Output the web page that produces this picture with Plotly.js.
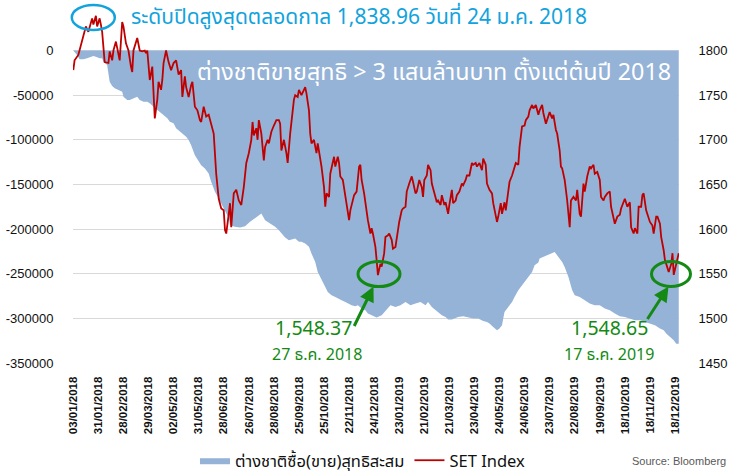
<!DOCTYPE html>
<html>
<head>
<meta charset="utf-8">
<script src="https://cdn.plot.ly/plotly-3.0.1.min.js"></script>
<style>html,body{margin:0;padding:0;background:#fff;}#chart{width:737px;height:474px;}</style>
</head>
<body>
<div id="chart"></div>
<script>
// Trading-day index of tick labels (every 20 trading days) and their labels
const tickIdx = [0,20,40,60,80,100,120,140,160,180,200,220,240,260,280,300,320,340,360,380,400,420,440,460,480];
const tickLabels = ["03/01/2018","31/01/2018","28/02/2018","29/03/2018","02/05/2018","31/05/2018","28/06/2018","26/07/2018","28/08/2018","25/09/2018","25/10/2018","22/11/2018","24/12/2018","23/01/2019","21/02/2019","21/03/2019","23/04/2019","24/05/2019","24/06/2019","23/07/2019","22/08/2019","19/09/2019","18/10/2019","18/11/2019","18/12/2019"];

// SET Index (right axis), sampled by trading-day index
const setIdx = [0,1,4,8,10,12,15,16,18,19,21,22,23,24,25,28,29,31,32,34,36,37,39,40,42,44,46,47,48,51,53,55,57,58,59,61,63,64,65,67,68,70,71,72,74,76,78,80,82,84,86,87,89,90,92,94,95,97,99,101,102,104,106,108,110,112,114,115,116,118,120,121,122,124,125,126,128,130,132,134,136,138,140,142,143,144,146,147,148,150,152,153,155,156,158,160,162,164,165,166,168,170,171,173,174,176,177,179,180,182,184,185,186,188,189,190,192,194,195,197,198,200,201,202,204,205,207,208,209,211,212,213,215,217,218,220,221,223,224,226,228,229,230,232,234,235,237,238,239,241,242,243,245,246,248,249,251,252,254,255,257,258,260,262,263,265,266,268,270,271,273,274,276,278,279,280,282,283,285,286,288,290,291,293,294,296,297,299,300,302,303,305,306,308,310,311,313,314,316,318,319,321,322,324,326,327,329,330,332,334,335,337,338,339,341,342,344,345,347,348,350,352,353,355,356,358,360,361,363,364,366,367,369,371,372,374,375,377,379,380,382,383,385,386,388,389,390,392,394,395,396,397,399,401,402,404,405,407,408,410,412,413,415,416,418,420,421,423,424,426,428,429,431,432,434,436,437,439,440,442,444,445,447,448,450,451,453,454,455,457,458,460,462,463,465,466,468,469,471,472,473,475,477,478,479,481,483];
const setVal = [1778,1789,1795,1815,1827,1821,1836,1829,1838.96,1827,1836,1829,1821,1804,1787,1786,1799,1789,1800,1810,1797,1789,1832,1827,1808,1800,1782,1776,1800,1814,1800,1799,1800,1797,1800,1767,1782,1745,1724,1745,1765,1756,1767,1786,1800,1787,1778,1786,1789,1773,1778,1748,1771,1759,1748,1761,1765,1737,1733,1722,1720,1737,1726,1728,1718,1707,1662,1644,1634,1623,1621,1599,1595,1617,1629,1602,1640,1644,1632,1627,1647,1674,1685,1700,1720,1705,1713,1700,1722,1707,1677,1692,1700,1696,1709,1716,1722,1722,1718,1688,1700,1685,1674,1707,1722,1745,1750,1748,1756,1750,1756,1759,1752,1733,1707,1696,1700,1685,1696,1681,1670,1647,1625,1640,1636,1662,1674,1681,1670,1681,1674,1659,1655,1636,1629,1610,1621,1632,1638,1642,1670,1672,1655,1640,1617,1610,1595,1601,1595,1580,1565,1548.37,1561,1558,1573,1591,1593,1595,1588,1578,1580,1591,1608,1621,1623,1625,1642,1651,1659,1653,1640,1642,1655,1647,1636,1655,1660,1672,1666,1651,1640,1630,1632,1627,1638,1627,1630,1617,1627,1644,1629,1632,1638,1642,1651,1649,1655,1660,1660,1674,1672,1674,1670,1674,1666,1679,1672,1651,1644,1640,1629,1614,1608,1614,1629,1617,1630,1621,1640,1653,1660,1670,1674,1672,1692,1715,1716,1722,1726,1733,1739,1735,1739,1728,1733,1739,1730,1718,1728,1731,1724,1728,1711,1707,1688,1670,1668,1655,1632,1617,1602,1632,1636,1632,1644,1617,1614,1651,1642,1659,1670,1668,1672,1662,1664,1655,1636,1632,1636,1640,1642,1625,1612,1606,1614,1616,1623,1632,1634,1625,1630,1602,1595,1601,1595,1625,1625,1638,1640,1621,1617,1608,1604,1595,1614,1614,1606,1591,1576,1565,1561,1552,1561,1573,1548.65,1561,1573];

// Cumulative net foreign buy(sell), million baht (left axis)
const flowIdx = [0,3,5,8,11,13,16,18,21,23,24,27,28,29,31,33,36,39,40,43,45,48,51,53,56,59,61,64,67,69,72,75,77,80,82,85,88,90,92,94,97,100,102,105,108,110,113,116,118,121,124,125,129,133,137,141,145,148,150,153,157,161,164,166,169,172,174,177,180,182,185,188,190,193,195,198,201,203,206,209,211,214,217,219,222,225,227,230,233,235,238,242,246,250,253,257,261,265,269,273,277,281,283,286,289,291,294,297,299,302,304,307,311,315,319,323,327,330,332,335,338,340,342,343,344,347,350,352,355,358,360,363,366,368,371,372,375,379,382,384,387,390,392,395,398,400,404,408,412,416,420,424,428,432,436,440,444,448,452,456,460,464,468,471,473,476,479,481,483];
const flowVal = [0,-5000,-9900,-9900,-8700,-7600,-6200,-6900,-8700,-8700,-12500,-16300,-25600,-35000,-39800,-42400,-44300,-46200,-51800,-55500,-55500,-53600,-51800,-55500,-57400,-57400,-59200,-63000,-66700,-68600,-72300,-76000,-79800,-81600,-87200,-91000,-94700,-96600,-100300,-106000,-117200,-124700,-128400,-132100,-137700,-147100,-158300,-165700,-171300,-179000,-188000,-195600,-197500,-198200,-196700,-191900,-188100,-184400,-182500,-190000,-193700,-197500,-201200,-204900,-209400,-212400,-211700,-210500,-214300,-214300,-216100,-219900,-227400,-236800,-248000,-257300,-264800,-270400,-274100,-276000,-277800,-279700,-281600,-283400,-285300,-286400,-285300,-289000,-290900,-294600,-296500,-299100,-296500,-290000,-285300,-287200,-285300,-281600,-285300,-283400,-281600,-285300,-281600,-287200,-290900,-292800,-296500,-298400,-301300,-301300,-300200,-298400,-297600,-299100,-300200,-300200,-302900,-304000,-305800,-309600,-313300,-311400,-307700,-300200,-292800,-287200,-281600,-276000,-268500,-262900,-259200,-253600,-248000,-240500,-237500,-233000,-231200,-229300,-227400,-225600,-231200,-236800,-242400,-253600,-268500,-274100,-276000,-279700,-283400,-285300,-285300,-289000,-290900,-294600,-297600,-298400,-300200,-302100,-302100,-304000,-305800,-307700,-311400,-313300,-317000,-320800,-324500,-328300,-328300];

const leftTicks = [0,-50000,-100000,-150000,-200000,-250000,-300000,-350000];
const rightTicks = [1450,1500,1550,1600,1650,1700,1750,1800];

// layout helpers: page pixel -> paper fraction (plot area 73..679 x 4..363)
const L = 73, R = 679, T = 4, B = 363;
const px = x => (x - L) / (R - L);
const py = y => (B - y) / (B - T);

const thai = "'Noto Sans Thai', 'Noto Sans', 'Liberation Sans', Arial, sans-serif";
const cyan = '#12A3DD';
const green = '#148A14';

const traces = [
  {
    x: flowIdx, y: flowVal, type: 'scatter', mode: 'lines',
    name: 'ต่างชาติซื้อ(ขาย)สุทธิสะสม',
    fill: 'tozeroy', fillcolor: '#95B3D7',
    line: {width: 0, color: '#95B3D7'},
    yaxis: 'y', hoverinfo: 'skip'
  },
  {
    x: setIdx, y: setVal, type: 'scatter', mode: 'lines',
    name: 'SET Index',
    line: {color: '#C00000', width: 1.8},
    yaxis: 'y2'
  }
];

function ellipse(cx, cy, rx, ry, color, w) {
  return {type: 'circle', xref: 'paper', yref: 'paper',
    x0: px(cx - rx), x1: px(cx + rx), y0: py(cy + ry), y1: py(cy - ry),
    line: {color: color, width: w}, layer: 'above'};
}

const layout = {
  width: 737, height: 474,
  margin: {l: L, r: 737 - R, t: T, b: 474 - B, autoexpand: false},
  paper_bgcolor: '#fff', plot_bgcolor: '#fff',
  showlegend: true,
  legend: {orientation: 'h', x: px(195), xanchor: 'left', y: py(443), yanchor: 'top',
    font: {family: thai, size: 16.5, color: '#111'}, traceorder: 'normal', itemwidth: 30},
  xaxis: {
    range: [-0.25, 483.2], tickmode: 'array', tickvals: tickIdx, ticktext: tickLabels,
    tickangle: -90, tickfont: {family: 'Liberation Sans, Arial', size: 11.5, color: '#111', weight: 'bold'},
    showgrid: false, zeroline: false, showline: false,
    ticks: 'outside', ticklen: 8, tickcolor: 'rgba(0,0,0,0)'
  },
  yaxis: {
    range: [-350000, 52100], tickmode: 'array', tickvals: leftTicks, ticktext: leftTicks.map(String),
    tickfont: {family: 'Liberation Sans, Arial', size: 13, color: '#111'},
    showgrid: true, gridcolor: '#D9D9D9', gridwidth: 1, zeroline: false, showline: false,
    ticks: 'outside', ticklen: 16, tickcolor: 'rgba(0,0,0,0)'
  },
  yaxis2: {
    overlaying: 'y', side: 'right',
    range: [1450, 1852.1], tickmode: 'array', tickvals: rightTicks,
    tickfont: {family: 'Liberation Sans, Arial', size: 13, color: '#111'},
    showgrid: false, zeroline: false, showline: false,
    ticks: 'outside', ticklen: 16, tickcolor: 'rgba(0,0,0,0)'
  },
  shapes: [
    ellipse(93.3, 17.5, 21.5, 12.5, cyan, 2.5),
    ellipse(379, 274, 21, 12.5, green, 3),
    ellipse(671, 274, 19.5, 12.5, green, 3)
  ],
  annotations: [
    {xref: 'paper', yref: 'paper', x: px(129), y: py(18), xanchor: 'left', yanchor: 'middle',
     text: 'ระดับปิดสูงสุดตลอดกาล 1,838.96 วันที่ 24 ม.ค. 2018', showarrow: false,
     font: {family: thai, size: 21, color: cyan}},
    {xref: 'paper', yref: 'paper', x: px(673), y: py(72), xanchor: 'right', yanchor: 'middle',
     text: 'ต่างชาติขายสุทธิ > 3 แสนล้านบาท ตั้งแต่ต้นปี 2018', showarrow: false,
     font: {family: thai, size: 23.3, color: '#fff'}},
    {xref: 'paper', yref: 'paper', x: px(313), y: py(329), xanchor: 'center', yanchor: 'middle',
     text: '1,548.37', showarrow: false, font: {family: thai, size: 19.5, color: green}},
    {xref: 'paper', yref: 'paper', x: px(317), y: py(355), xanchor: 'center', yanchor: 'middle',
     text: '27 ธ.ค. 2018', showarrow: false, font: {family: thai, size: 16, color: green}},
    {xref: 'paper', yref: 'paper', x: px(609), y: py(329), xanchor: 'center', yanchor: 'middle',
     text: '1,548.65', showarrow: false, font: {family: thai, size: 19.5, color: green}},
    {xref: 'paper', yref: 'paper', x: px(609), y: py(355), xanchor: 'center', yanchor: 'middle',
     text: '17 ธ.ค. 2019', showarrow: false, font: {family: thai, size: 16, color: green}},
    {xref: 'paper', yref: 'paper', x: px(373.5), y: py(286.5), ax: -20, ay: 41, axref: 'pixel', ayref: 'pixel',
     text: '', showarrow: true, arrowhead: 2, arrowsize: 1, arrowwidth: 3, arrowcolor: green},
    {xref: 'paper', yref: 'paper', x: px(668.5), y: py(286.5), ax: -22, ay: 34, axref: 'pixel', ayref: 'pixel',
     text: '', showarrow: true, arrowhead: 2, arrowsize: 1, arrowwidth: 3, arrowcolor: green},
    {xref: 'paper', yref: 'paper', x: px(728), y: py(461), xanchor: 'right', yanchor: 'middle',
     text: 'Source: Bloomberg', showarrow: false, font: {family: 'Liberation Sans, Arial', size: 11, color: '#595959'}}
  ]
};

Plotly.newPlot('chart', traces, layout, {displayModeBar: false, staticPlot: true});
</script>
</body>
</html>
